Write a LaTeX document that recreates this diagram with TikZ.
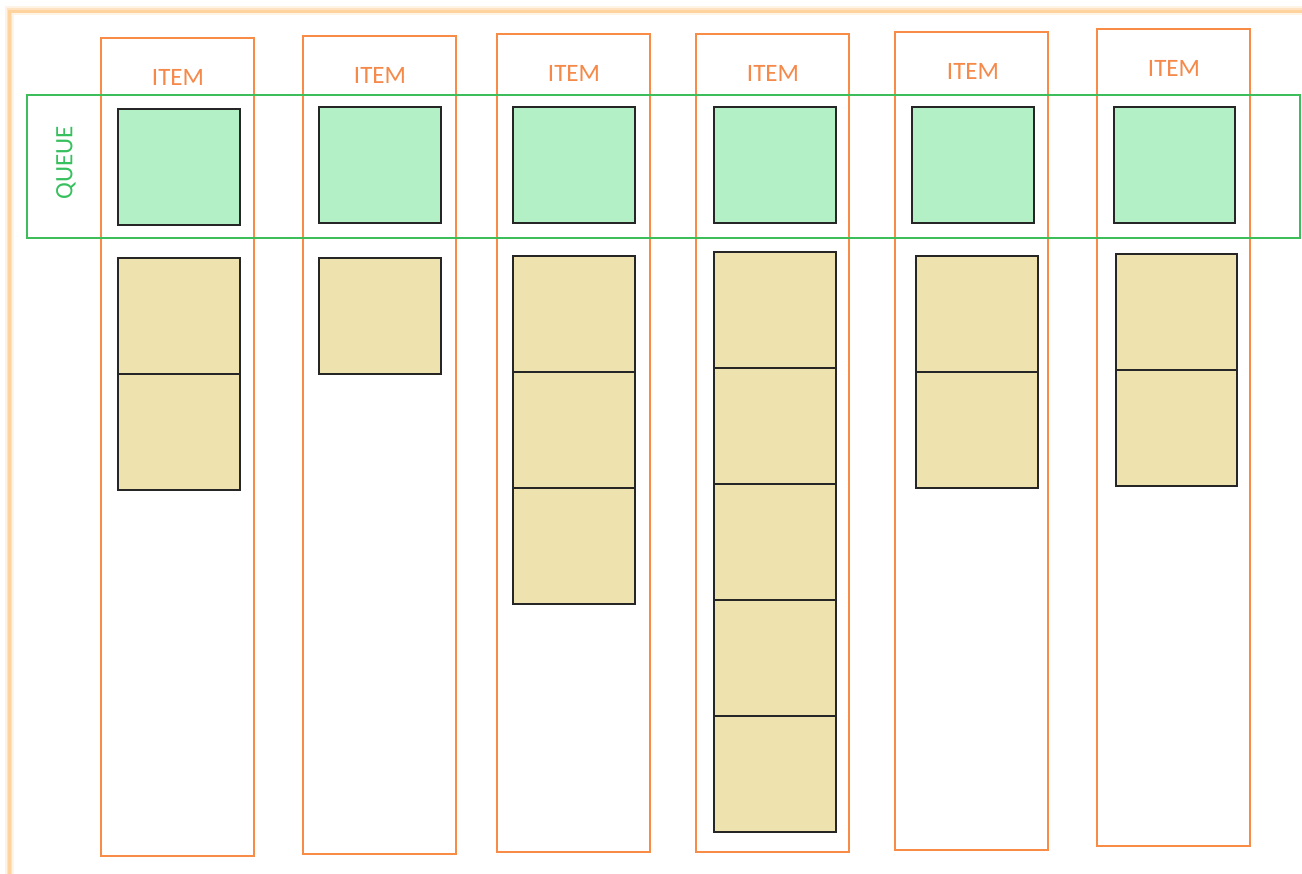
\documentclass[tikz,border=0pt]{standalone}
\usepackage{fontspec}
\setmainfont{Carlito}
\definecolor{frameor}{HTML}{FFD39E}
\definecolor{colline}{HTML}{F88B45}
\definecolor{qline}{HTML}{3DBE5B}
\definecolor{gfill}{HTML}{B3F0C6}
\definecolor{tfill}{HTML}{EEE2AF}
\definecolor{itemtxt}{HTML}{F5894A}
\definecolor{qtxt}{HTML}{37C05E}
\tikzset{
  colbox/.style={draw=colline, line width=1.8pt, anchor=north west, minimum width=153pt, minimum height=818pt, inner sep=0pt, outer sep=0pt},
  qbox/.style={draw=qline, line width=1.8pt, anchor=north west, minimum width=1273pt, minimum height=143pt, inner sep=0pt, outer sep=0pt},
  gbox/.style={draw=black!85, fill=gfill, line width=1.8pt, anchor=north west, minimum width=122pt, minimum height=116pt, inner sep=0pt, outer sep=0pt},
  tbox/.style={draw=black!85, fill=tfill, line width=1.8pt, anchor=north west, minimum width=122pt, minimum height=116pt, inner sep=0pt, outer sep=0pt},
  itemlbl/.style={text=itemtxt, font=\fontsize{25pt}{27pt}\selectfont, inner sep=0pt},
  qlbl/.style={text=qtxt, font=\fontsize{25pt}{27pt}\selectfont, inner sep=0pt, rotate=90}
}
\begin{document}
\begin{tikzpicture}[x=1pt,y=-1pt]
\useasboundingbox (0,0) rectangle (1302,874);
\fill[white] (0,0) rectangle (1302,874);
% glowing frame
\draw[frameor, opacity=0.25, line width=9pt] (9,900) -- (9,11) -- (1330,11);
\draw[frameor, opacity=0.5, line width=5pt] (9,900) -- (9,11) -- (1330,11);
\draw[frameor, line width=2.5pt] (9.5,900) -- (9.5,11.5) -- (1330,11.5);
% columns
\node[colbox] (c1) at (101,38) {};
\node[colbox] (c2) at (303,36) {};
\node[colbox] (c3) at (497,34) {};
\node[colbox] (c4) at (696,34) {};
\node[colbox] (c5) at (895,32) {};
\node[colbox, minimum height=817pt] (c6) at (1097,29) {};
% labels
\node[itemlbl] (l1) at (178,77) {ITEM};
\node[itemlbl] (l2) at (380,75) {ITEM};
\node[itemlbl] (l3) at (574,73) {ITEM};
\node[itemlbl] (l4) at (773,73) {ITEM};
\node[itemlbl] (l5) at (973,71) {ITEM};
\node[itemlbl] (l6) at (1174,68) {ITEM};
% queue
\node[qbox] (q) at (27,95) {};
\node[qlbl] (ql) at (66,163) {QUEUE};
% green boxes
\node[gbox] (g1) at (118,109) {};
\node[gbox] (g2) at (319,107) {};
\node[gbox] (g3) at (513,107) {};
\node[gbox] (g4) at (714,107) {};
\node[gbox] (g5) at (912,107) {};
\node[gbox, minimum width=121pt] (g6) at (1114,107) {};
% tan boxes
\node[tbox] (a1) at (118,258) {};
\node[tbox] (a2) at (118,374) {};
\node[tbox] (b1) at (319,258) {};
\node[tbox] (d1) at (513,256) {};
\node[tbox] (d2) at (513,372) {};
\node[tbox] (d3) at (513,488) {};
\node[tbox] (e1) at (714,252) {};
\node[tbox] (e2) at (714,368) {};
\node[tbox] (e3) at (714,484) {};
\node[tbox] (e4) at (714,600) {};
\node[tbox] (e5) at (714,716) {};
\node[tbox] (f1) at (916,256) {};
\node[tbox] (f2) at (916,372) {};
\node[tbox, minimum width=121pt] (h1) at (1116,254) {};
\node[tbox, minimum width=121pt] (h2) at (1116,370) {};
\end{tikzpicture}
\end{document}
